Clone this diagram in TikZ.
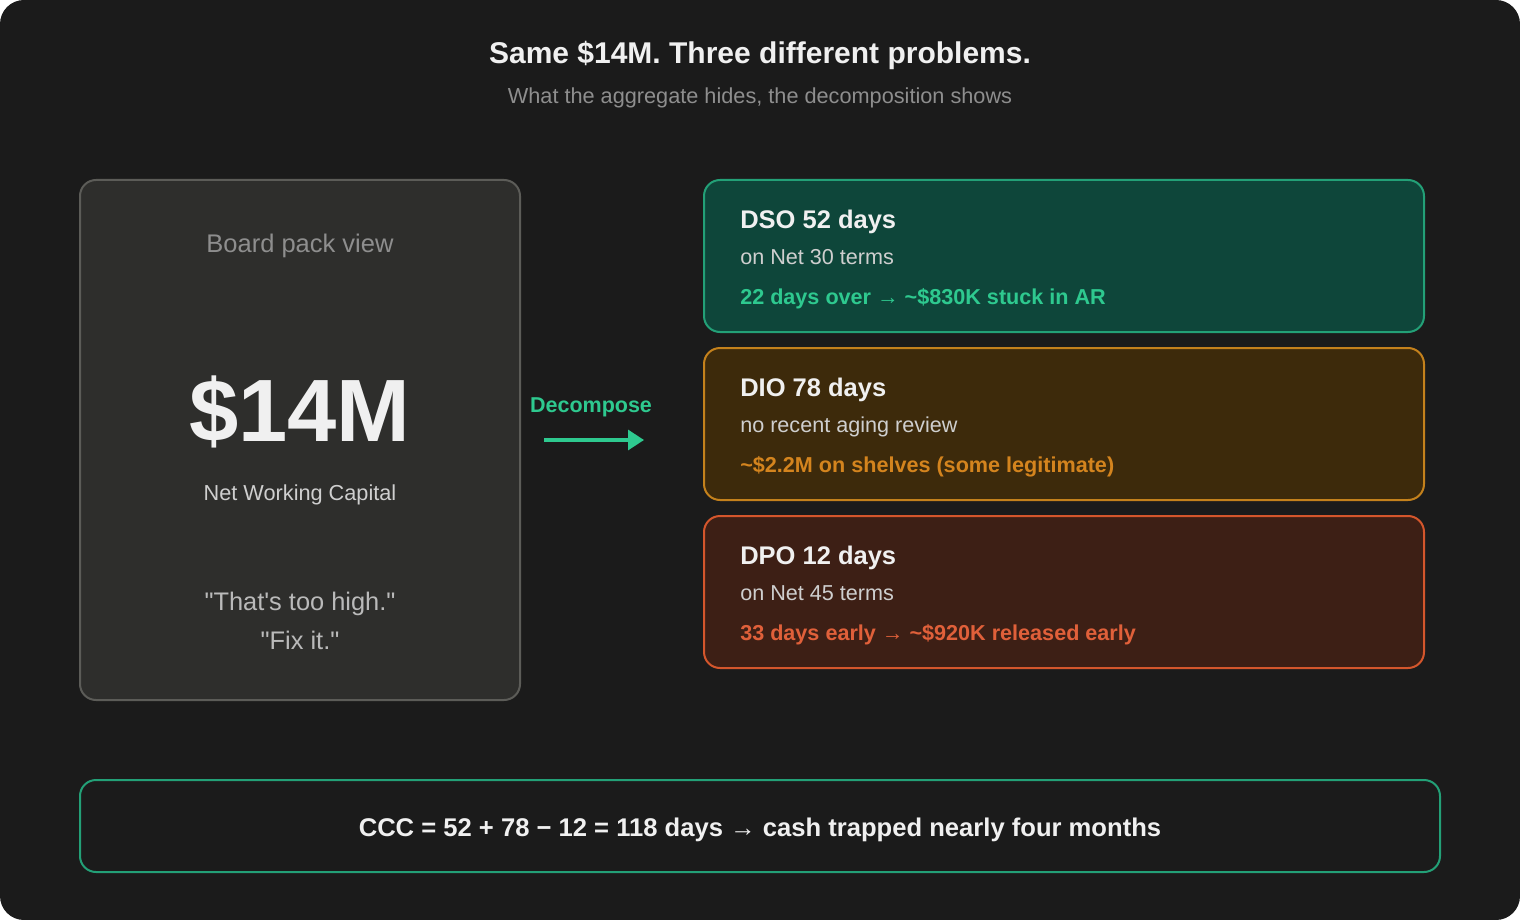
\documentclass[tikz,border=0pt]{standalone}
\usepackage{fontspec}
\setmainfont{Liberation Sans}[Ligatures=TeXOff]
\usetikzlibrary{arrows.meta}
\definecolor{bgdark}{HTML}{1B1B1B}
\definecolor{leftfill}{HTML}{2E2E2C}
\definecolor{leftdraw}{HTML}{5C5C58}
\definecolor{greenfill}{HTML}{0E463A}
\definecolor{greendraw}{HTML}{23A077}
\definecolor{greentext}{HTML}{2EC98F}
\definecolor{amberfill}{HTML}{3D2A0B}
\definecolor{amberdraw}{HTML}{C4811C}
\definecolor{ambertext}{HTML}{D4841E}
\definecolor{redfill}{HTML}{3D1F15}
\definecolor{reddraw}{HTML}{D4562C}
\definecolor{redtext}{HTML}{E0603A}
\definecolor{whitetext}{HTML}{F0F0F0}
\definecolor{greytext}{HTML}{8E8E8E}
\definecolor{lighttext}{HTML}{CFCFCF}
\newcommand{\px}[1]{\fontsize{\fpeval{#1*0.75}pt}{\fpeval{#1*0.9}pt}\selectfont}
\tikzset{
  panel/.style={rounded corners=12, line width=1.5pt},
  txt/.style={inner sep=0pt, anchor=base},
  ltxt/.style={inner sep=0pt, anchor=base west},
}
\begin{document}
\begin{tikzpicture}[x=0.75pt,y=-0.75pt]
\useasboundingbox (0,0) rectangle (1520,920);
\fill[white] (0,0) rectangle (1520,920);
\fill[bgdark, rounded corners=18] (0,0) rectangle (1520,920);

% title
\node[txt, text=whitetext] (title) at (760,64) {\px{30}\bfseries Same \$14M. Three different problems.};
\node[txt, text=greytext] (subtitle) at (760,104) {\px{21.7}What the aggregate hides, the decomposition shows};

% left panel
\draw[panel, fill=leftfill, draw=leftdraw] (80,180) rectangle (520,700);
\node[txt, text=greytext] (board) at (300,252) {\px{25.5}Board pack view};
\node[txt, text=whitetext] (big) at (300,441) {\px{88.5}\bfseries \$14M};
\node[txt, text=lighttext] (nwc) at (300,500) {\px{21.7}Net Working Capital};
\node[txt, text=lighttext!90!black] (q1) at (300,610) {\px{25.4}"That's too high."};
\node[txt, text=lighttext!90!black] (q2) at (300,649) {\px{25.4}"Fix it."};

% decompose arrow
\node[txt, text=greentext] (dec) at (591,412) {\px{21.5}\bfseries Decompose};
\coordinate (a1) at (544,440);
\coordinate (a2) at (644,440);
\draw[greentext, line width=2.3pt, -{Triangle[length=12pt,width=15pt]}] (a1) -- (a2);

% right boxes
\draw[panel, fill=greenfill, draw=greendraw] (704,180) rectangle (1424,332);
\node[ltxt, text=whitetext] (dso) at (740,228) {\px{25.5}\bfseries DSO 52 days};
\node[ltxt, text=lighttext] (dso2) at (740,264) {\px{21.6}on Net 30 terms};
\node[ltxt, text=greentext] (dso3) at (740,304) {\px{21.6}\bfseries 22 days over → \textasciitilde\$830K stuck in AR};

\draw[panel, fill=amberfill, draw=amberdraw] (704,348) rectangle (1424,500);
\node[ltxt, text=whitetext] (dio) at (740,396) {\px{25.5}\bfseries DIO 78 days};
\node[ltxt, text=lighttext] (dio2) at (740,432) {\px{21.6}no recent aging review};
\node[ltxt, text=ambertext] (dio3) at (740,472) {\px{21.6}\bfseries \textasciitilde\$2.2M on shelves (some legitimate)};

\draw[panel, fill=redfill, draw=reddraw] (704,516) rectangle (1424,668);
\node[ltxt, text=whitetext] (dpo) at (740,564) {\px{25.5}\bfseries DPO 12 days};
\node[ltxt, text=lighttext] (dpo2) at (740,600) {\px{21.6}on Net 45 terms};
\node[ltxt, text=redtext] (dpo3) at (740,640) {\px{21.6}\bfseries 33 days early → \textasciitilde\$920K released early};

% bottom
\draw[panel, draw=greendraw] (80,780) rectangle (1440,872);
\node[txt, text=whitetext] (ccc) at (760,836) {\px{25.6}\bfseries CCC = 52 + 78 − 12 = 118 days → cash trapped nearly four months};
\end{tikzpicture}
\end{document}
